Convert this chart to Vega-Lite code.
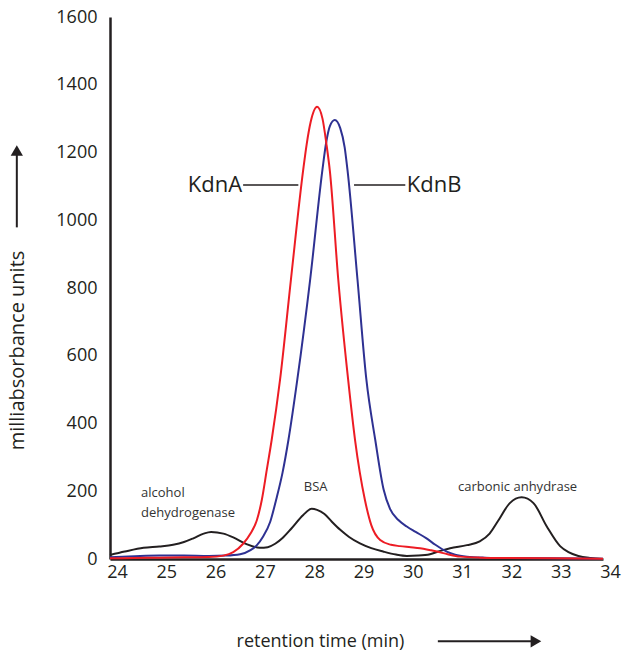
{
  "$schema": "https://vega.github.io/schema/vega-lite/v6.json",
  "autosize": {"type": "none"},
  "padding": {"left": 110, "top": 17, "right": 26, "bottom": 93},
  "width": 493,
  "height": 542,
  "background": "white",
  "config": {"view": {"stroke": null}, "font": "Open Sans"},
  "datasets": {
    "curves": [
      {"t": 24.0, "v": 12, "s": "standards"}, {"t": 24.3, "v": 22, "s": "standards"}, {"t": 24.68, "v": 33, "s": "standards"}, {"t": 25.0, "v": 37, "s": "standards"}, {"t": 25.28, "v": 42, "s": "standards"}, {"t": 25.5, "v": 50, "s": "standards"}, {"t": 25.69, "v": 61, "s": "standards"}, {"t": 25.9, "v": 75, "s": "standards"}, {"t": 26.05, "v": 80, "s": "standards"}, {"t": 26.3, "v": 75, "s": "standards"}, {"t": 26.5, "v": 64, "s": "standards"}, {"t": 26.77, "v": 44, "s": "standards"}, {"t": 27.04, "v": 33, "s": "standards"}, {"t": 27.2, "v": 35, "s": "standards"}, {"t": 27.35, "v": 45, "s": "standards"}, {"t": 27.5, "v": 62, "s": "standards"}, {"t": 27.68, "v": 90, "s": "standards"}, {"t": 27.92, "v": 130, "s": "standards"}, {"t": 28.09, "v": 148, "s": "standards"}, {"t": 28.2, "v": 145, "s": "standards"}, {"t": 28.35, "v": 133, "s": "standards"}, {"t": 28.5, "v": 110, "s": "standards"}, {"t": 28.67, "v": 86, "s": "standards"}, {"t": 28.85, "v": 65, "s": "standards"}, {"t": 29.07, "v": 46, "s": "standards"}, {"t": 29.3, "v": 32, "s": "standards"}, {"t": 29.54, "v": 22, "s": "standards"}, {"t": 29.8, "v": 13, "s": "standards"}, {"t": 30.02, "v": 9, "s": "standards"}, {"t": 30.25, "v": 10, "s": "standards"}, {"t": 30.49, "v": 14, "s": "standards"}, {"t": 30.7, "v": 24, "s": "standards"}, {"t": 30.9, "v": 32, "s": "standards"}, {"t": 31.24, "v": 41, "s": "standards"}, {"t": 31.5, "v": 52, "s": "standards"}, {"t": 31.7, "v": 75, "s": "standards"}, {"t": 31.87, "v": 112, "s": "standards"}, {"t": 32.11, "v": 165, "s": "standards"}, {"t": 32.35, "v": 182, "s": "standards"}, {"t": 32.59, "v": 165, "s": "standards"}, {"t": 32.86, "v": 96, "s": "standards"}, {"t": 33.13, "v": 38, "s": "standards"}, {"t": 33.3, "v": 20, "s": "standards"}, {"t": 33.5, "v": 9, "s": "standards"}, {"t": 33.75, "v": 3, "s": "standards"}, {"t": 34.0, "v": 0, "s": "standards"},

      {"t": 24.0, "v": 5, "s": "KdnB"}, {"t": 24.5, "v": 8, "s": "KdnB"}, {"t": 25.0, "v": 10, "s": "KdnB"}, {"t": 25.5, "v": 10, "s": "KdnB"}, {"t": 26.0, "v": 9, "s": "KdnB"}, {"t": 26.35, "v": 10, "s": "KdnB"}, {"t": 26.64, "v": 14, "s": "KdnB"}, {"t": 26.85, "v": 26, "s": "KdnB"}, {"t": 26.98, "v": 41, "s": "KdnB"}, {"t": 27.1, "v": 65, "s": "KdnB"}, {"t": 27.25, "v": 110, "s": "KdnB"}, {"t": 27.37, "v": 175, "s": "KdnB"}, {"t": 27.5, "v": 255, "s": "KdnB"}, {"t": 27.62, "v": 352, "s": "KdnB"}, {"t": 27.8, "v": 530, "s": "KdnB"}, {"t": 28.06, "v": 825, "s": "KdnB"}, {"t": 28.31, "v": 1150, "s": "KdnB"}, {"t": 28.38, "v": 1225, "s": "KdnB"}, {"t": 28.46, "v": 1278, "s": "KdnB"}, {"t": 28.56, "v": 1296, "s": "KdnB"}, {"t": 28.67, "v": 1272, "s": "KdnB"}, {"t": 28.76, "v": 1215, "s": "KdnB"}, {"t": 28.82, "v": 1145, "s": "KdnB"}, {"t": 29.02, "v": 825, "s": "KdnB"}, {"t": 29.2, "v": 530, "s": "KdnB"}, {"t": 29.38, "v": 352, "s": "KdnB"}, {"t": 29.55, "v": 205, "s": "KdnB"}, {"t": 29.68, "v": 148, "s": "KdnB"}, {"t": 29.85, "v": 115, "s": "KdnB"}, {"t": 30.02, "v": 96, "s": "KdnB"}, {"t": 30.2, "v": 80, "s": "KdnB"}, {"t": 30.42, "v": 61, "s": "KdnB"}, {"t": 30.6, "v": 42, "s": "KdnB"}, {"t": 30.83, "v": 22, "s": "KdnB"}, {"t": 31.0, "v": 13, "s": "KdnB"}, {"t": 31.24, "v": 7, "s": "KdnB"}, {"t": 31.6, "v": 4, "s": "KdnB"}, {"t": 32.0, "v": 3, "s": "KdnB"}, {"t": 33.0, "v": 2, "s": "KdnB"}, {"t": 34.0, "v": 1, "s": "KdnB"},

      {"t": 24.0, "v": 2, "s": "KdnA"}, {"t": 24.5, "v": 3, "s": "KdnA"}, {"t": 25.0, "v": 4, "s": "KdnA"}, {"t": 25.5, "v": 5, "s": "KdnA"}, {"t": 26.0, "v": 6, "s": "KdnA"}, {"t": 26.3, "v": 10, "s": "KdnA"}, {"t": 26.5, "v": 20, "s": "KdnA"}, {"t": 26.7, "v": 45, "s": "KdnA"}, {"t": 26.85, "v": 75, "s": "KdnA"}, {"t": 26.98, "v": 115, "s": "KdnA"}, {"t": 27.08, "v": 175, "s": "KdnA"}, {"t": 27.18, "v": 263, "s": "KdnA"}, {"t": 27.28, "v": 352, "s": "KdnA"}, {"t": 27.45, "v": 530, "s": "KdnA"}, {"t": 27.67, "v": 825, "s": "KdnA"}, {"t": 27.92, "v": 1150, "s": "KdnA"}, {"t": 27.99, "v": 1225, "s": "KdnA"}, {"t": 28.07, "v": 1290, "s": "KdnA"}, {"t": 28.2, "v": 1335, "s": "KdnA"}, {"t": 28.31, "v": 1300, "s": "KdnA"}, {"t": 28.39, "v": 1225, "s": "KdnA"}, {"t": 28.46, "v": 1145, "s": "KdnA"}, {"t": 28.63, "v": 825, "s": "KdnA"}, {"t": 28.83, "v": 530, "s": "KdnA"}, {"t": 28.97, "v": 352, "s": "KdnA"}, {"t": 29.17, "v": 175, "s": "KdnA"}, {"t": 29.3, "v": 100, "s": "KdnA"}, {"t": 29.48, "v": 56, "s": "KdnA"}, {"t": 29.7, "v": 42, "s": "KdnA"}, {"t": 29.88, "v": 38, "s": "KdnA"}, {"t": 30.1, "v": 35, "s": "KdnA"}, {"t": 30.29, "v": 32, "s": "KdnA"}, {"t": 30.5, "v": 26, "s": "KdnA"}, {"t": 30.63, "v": 22, "s": "KdnA"}, {"t": 30.85, "v": 14, "s": "KdnA"}, {"t": 31.1, "v": 7, "s": "KdnA"}, {"t": 31.5, "v": 4, "s": "KdnA"}, {"t": 32.0, "v": 3, "s": "KdnA"}, {"t": 33.0, "v": 2, "s": "KdnA"}, {"t": 34.0, "v": 1, "s": "KdnA"}
    ],
    "arrows": [
      {"x": 22.11, "x2": 22.11, "y": 979, "y2": 1195},
      {"x": 30.65, "x2": 32.6, "y": -243, "y2": -243}
    ],
    "heads": [
      {"x": 22.11, "y": 1206, "shape": "triangle-up"},
      {"x": 32.64, "y": -243, "shape": "triangle-right"}
    ],
    "leaders": [
      {"x": 26.70, "x2": 27.82, "y": 1104},
      {"x": 28.95, "x2": 29.99, "y": 1104}
    ],
    "leftLabel": [
      {"x": 26.68, "y": 1104, "label": "KdnA"}
    ],
    "rightLabel": [
      {"x": 30.02, "y": 1104, "label": "KdnB"}
    ],
    "smallLabels": [
      {"x": 24.63, "y": 196, "label": "alcohol"},
      {"x": 24.63, "y": 136, "label": "dehydrogenase"},
      {"x": 27.93, "y": 213, "label": "BSA"},
      {"x": 31.06, "y": 213, "label": "carbonic anhydrase"}
    ]
  },
  "layer": [
    {
      "data": {"name": "curves"},
      "mark": {"type": "line", "strokeWidth": 2, "interpolate": "monotone"},
      "encoding": {
        "x": {"field": "t", "type": "quantitative", "scale": {"domain": [24, 34], "nice": false, "zero": false},
          "axis": {"title": "retention time (min)", "values": [24, 25, 26, 27, 28, 29, 30, 31, 32, 33, 34], "format": "d",
            "ticks": false, "grid": false, "domainColor": "#231F20", "domainWidth": 2.5, "labelFont": "Open Sans", "labelFontSize": 18,
            "labelColor": "#231F20", "labelPadding": 4, "labelOffset": 7, "labelFlush": false, "labelOverlap": false,
            "titleFont": "Open Sans", "titleFontSize": 18, "titleFontWeight": "normal", "titleColor": "#231F20",
            "titleX": 210, "titleY": 82, "titleBaseline": "middle", "titleAlign": "center"}},
        "y": {"field": "v", "type": "quantitative", "scale": {"domain": [0, 1600], "nice": false},
          "axis": {"title": "milliabsorbance units", "values": [0, 200, 400, 600, 800, 1000, 1200, 1400, 1600], "format": "d",
            "ticks": false, "grid": false, "domainColor": "#231F20", "domainWidth": 2.5, "labelFont": "Open Sans", "labelFontSize": 18,
            "labelColor": "#231F20", "labelPadding": 13, "labelFlush": false, "labelOverlap": false,
            "titleFont": "Open Sans", "titleFontSize": 20, "titleFontWeight": "normal", "titleColor": "#231F20",
            "titleX": -93, "titleY": 333, "titleAngle": 270, "titleBaseline": "middle", "titleAlign": "center"}},
        "color": {"field": "s", "type": "nominal", "scale": {"domain": ["standards", "KdnB", "KdnA"], "range": ["#231F20", "#2E3192", "#ED1C24"]}, "legend": null}
      }
    },
    {
      "data": {"name": "arrows"},
      "mark": {"type": "rule", "strokeWidth": 2, "color": "#231F20"},
      "encoding": {
        "x": {"field": "x", "type": "quantitative"},
        "x2": {"field": "x2"},
        "y": {"field": "y", "type": "quantitative"},
        "y2": {"field": "y2"}
      }
    },
    {
      "data": {"name": "heads"},
      "mark": {"type": "point", "filled": true, "size": 150, "opacity": 1, "color": "#231F20"},
      "encoding": {
        "x": {"field": "x", "type": "quantitative"},
        "y": {"field": "y", "type": "quantitative"},
        "shape": {"field": "shape", "type": "nominal", "scale": {"domain": ["triangle-up", "triangle-right"], "range": ["triangle-up", "triangle-right"]}, "legend": null}
      }
    },
    {
      "data": {"name": "leaders"},
      "mark": {"type": "rule", "strokeWidth": 1.5, "color": "#231F20"},
      "encoding": {
        "x": {"field": "x", "type": "quantitative"},
        "x2": {"field": "x2"},
        "y": {"field": "y", "type": "quantitative"}
      }
    },
    {
      "data": {"name": "leftLabel"},
      "mark": {"type": "text", "font": "Open Sans", "fontSize": 22, "color": "#231F20", "baseline": "middle", "align": "right"},
      "encoding": {
        "x": {"field": "x", "type": "quantitative"},
        "y": {"field": "y", "type": "quantitative"},
        "text": {"field": "label"}
      }
    },
    {
      "data": {"name": "rightLabel"},
      "mark": {"type": "text", "font": "Open Sans", "fontSize": 22, "color": "#231F20", "baseline": "middle", "align": "left"},
      "encoding": {
        "x": {"field": "x", "type": "quantitative"},
        "y": {"field": "y", "type": "quantitative"},
        "text": {"field": "label"}
      }
    },
    {
      "data": {"name": "smallLabels"},
      "mark": {"type": "text", "font": "Open Sans", "fontSize": 13, "color": "#333333", "baseline": "middle", "align": "left"},
      "encoding": {
        "x": {"field": "x", "type": "quantitative"},
        "y": {"field": "y", "type": "quantitative"},
        "text": {"field": "label"}
      }
    }
  ]
}
